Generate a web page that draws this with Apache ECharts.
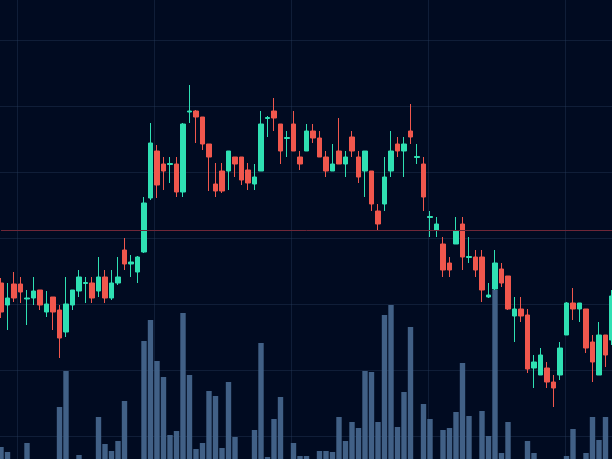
<!DOCTYPE html>
<html>
<head>
<meta charset="utf-8">
<script src="https://cdn.jsdelivr.net/npm/echarts@6/dist/echarts.min.js"></script>
<style>
html,body{margin:0;padding:0;background:#010b21;}
#chart{width:612px;height:459px;}
</style>
</head>
<body>
<div id="chart"></div>
<script>
// Candle values (price units), one entry per session
const opens = [219,197,218,218,203,204,212,190,205,192,
  170,197,211,218.5,219,211,225,204,219,252,
  238,230,250,304,351,338,337.5,338,310,390,
  391,385,358,318,331,331,345,345,332,318,
  331,383.5,391,378,363.5,378,345,351,371,364,
  345,331,351,338,365,345,331,331,291,298,
  331,358,351,371,344.5,338,284.5,272,258,239,
  258,278,244.5,245,245,205,213,233,226,186,
  193,187,134,127,134,120,127,167,199,193,
  193,160,127,167,162];
const closes = [190,204,204,210,204,211,197,198,190,164,
  198,212,225,219.5,204,225,204,219,225,238,
  240,245,299,359,317,331,338.5,310,378,391,
  385,358,345,311,311,351,338,322,319,325,
  378,384.5,384,351,364.5,351,338,371,364,345,
  331,338,338,345,351,325,351,298,278,325,
  351,351,358,365,345.5,305,285.5,278,232,232,
  271,245,245.5,232,212,207,239,219,193,193,
  186,133,140,147,120,114,154,199,193,199,
  154,140,167,147,206];
const lows = [184,172,200,199,177,197,192,185,172,144,
  165,192,205,199,199,205,199,202,217,232,
  225,219,249,302,304,312,319,305,305,379,
  359,352,311,305,309,312,325,317,312,312,
  331,365,371,338,345,351,332,351,359,345,
  325,331,338,325,345,319,305,291,272,291,
  325,345,325,358,338,291,265,265,225,225,
  258,232,239,225,200,204,212,215,192,160,
  180,129,114,127,114,95,122,167,182,180,
  149,120,127,135,157];
const highs = [224,219,230,225,212,225,212,211,205,197,
  225,212,232,225,225,245,232,232,245,264,
  247,246,305,379,357,345,345,345,379,417,
  392,385,358,339,339,351,345,345,339,338,
  391,386,404,378,371,391,351,378,378,371,
  351,358,384,351,371,351,351,331,298,345,
  371,365,365,398,358,345,291,285,265,245,
  285,285,265,252,252,219,252,239,226,205,
  205,193,147,154,140,127,160,200,214,199,
  193,167,180,167,212];
const volumes = [32,27,12,9,36,14,11,8,13,72,
  108,15,24,10,13,62,35,28,38,78,
  11,14,138,159,118,102,44,48,166,104,
  30,36,88,83,31,97,42,12,15,49,
  136,22,60,82,14,36,23,23,13,28,
  28,27,62,38,57,51,108,107,57,164,
  174,52,87,152,16,75,60,13,49,51,
  67,116,63,14,68,43,189,26,57,12,
  15,38,26,10,12,9,16,23,50,14,
  26,62,39,62,15];
const lastPrice = 271.5;
const categories = opens.map((_, i) => 'T' + (i + 1));

const candleData = opens.map((o, i) => [o, closes[i], lows[i], highs[i]]);

const UP = '#2fe0b3';
const DOWN = '#f0574d';
const gridLineColor = 'rgba(40,60,92,0.40)';
const hidden = {axisLine: {show: false}, axisTick: {show: false}, axisLabel: {show: false}};
const noSplit = {splitLine: {show: false}};

const chart = echarts.init(document.getElementById('chart'), null, {renderer: 'canvas'});
chart.setOption({
  backgroundColor: '#010b21',
  animation: false,
  grid: [
    {left: 1, right: 0, top: 0, bottom: 0},
    {left: 1, right: 0, top: 0, bottom: 0},
    {left: 0, right: 0, top: 40, bottom: 23},
    {left: 17, right: 47, top: 0, bottom: 0}
  ],
  xAxis: [
    Object.assign({type: 'category', gridIndex: 0, data: categories, boundaryGap: false}, noSplit, hidden),
    Object.assign({type: 'category', gridIndex: 1, data: categories, boundaryGap: false}, noSplit, hidden),
    Object.assign({type: 'value', gridIndex: 2, min: 0, max: 1}, noSplit, hidden),
    Object.assign({type: 'value', gridIndex: 3, min: 0, max: 548, interval: 137,
      splitLine: {show: true, lineStyle: {color: gridLineColor, width: 1}}}, hidden)
  ],
  yAxis: [
    Object.assign({type: 'value', gridIndex: 0, min: 43, max: 502}, noSplit, hidden),
    Object.assign({type: 'value', gridIndex: 1, min: 20, max: 479}, noSplit, hidden),
    Object.assign({type: 'value', gridIndex: 2, min: 0, max: 396, interval: 66,
      splitLine: {show: true, lineStyle: {color: gridLineColor, width: 1}}}, hidden),
    Object.assign({type: 'value', gridIndex: 3, min: 0, max: 1}, noSplit, hidden)
  ],
  series: [
    {type: 'scatter', xAxisIndex: 2, yAxisIndex: 2, data: [], silent: true},
    {type: 'scatter', xAxisIndex: 3, yAxisIndex: 3, data: [], silent: true},
    {
      type: 'bar', name: 'Volume', xAxisIndex: 1, yAxisIndex: 1,
      data: volumes, barWidth: 5.4, clip: true,
      itemStyle: {color: '#45658c', opacity: 0.95},
      z: 2
    },
    {
      type: 'candlestick', name: 'Price', xAxisIndex: 0, yAxisIndex: 0,
      data: candleData, barWidth: 5,
      itemStyle: {color: UP, color0: DOWN, borderColor: UP, borderColor0: DOWN, borderWidth: 1},
      markLine: {
        silent: true, symbol: ['none', 'none'],
        label: {show: false},
        lineStyle: {color: '#6e2738', width: 1, type: 'solid'},
        data: [{yAxis: lastPrice}]
      },
      z: 3
    }
  ]
});
</script>
</body>
</html>
